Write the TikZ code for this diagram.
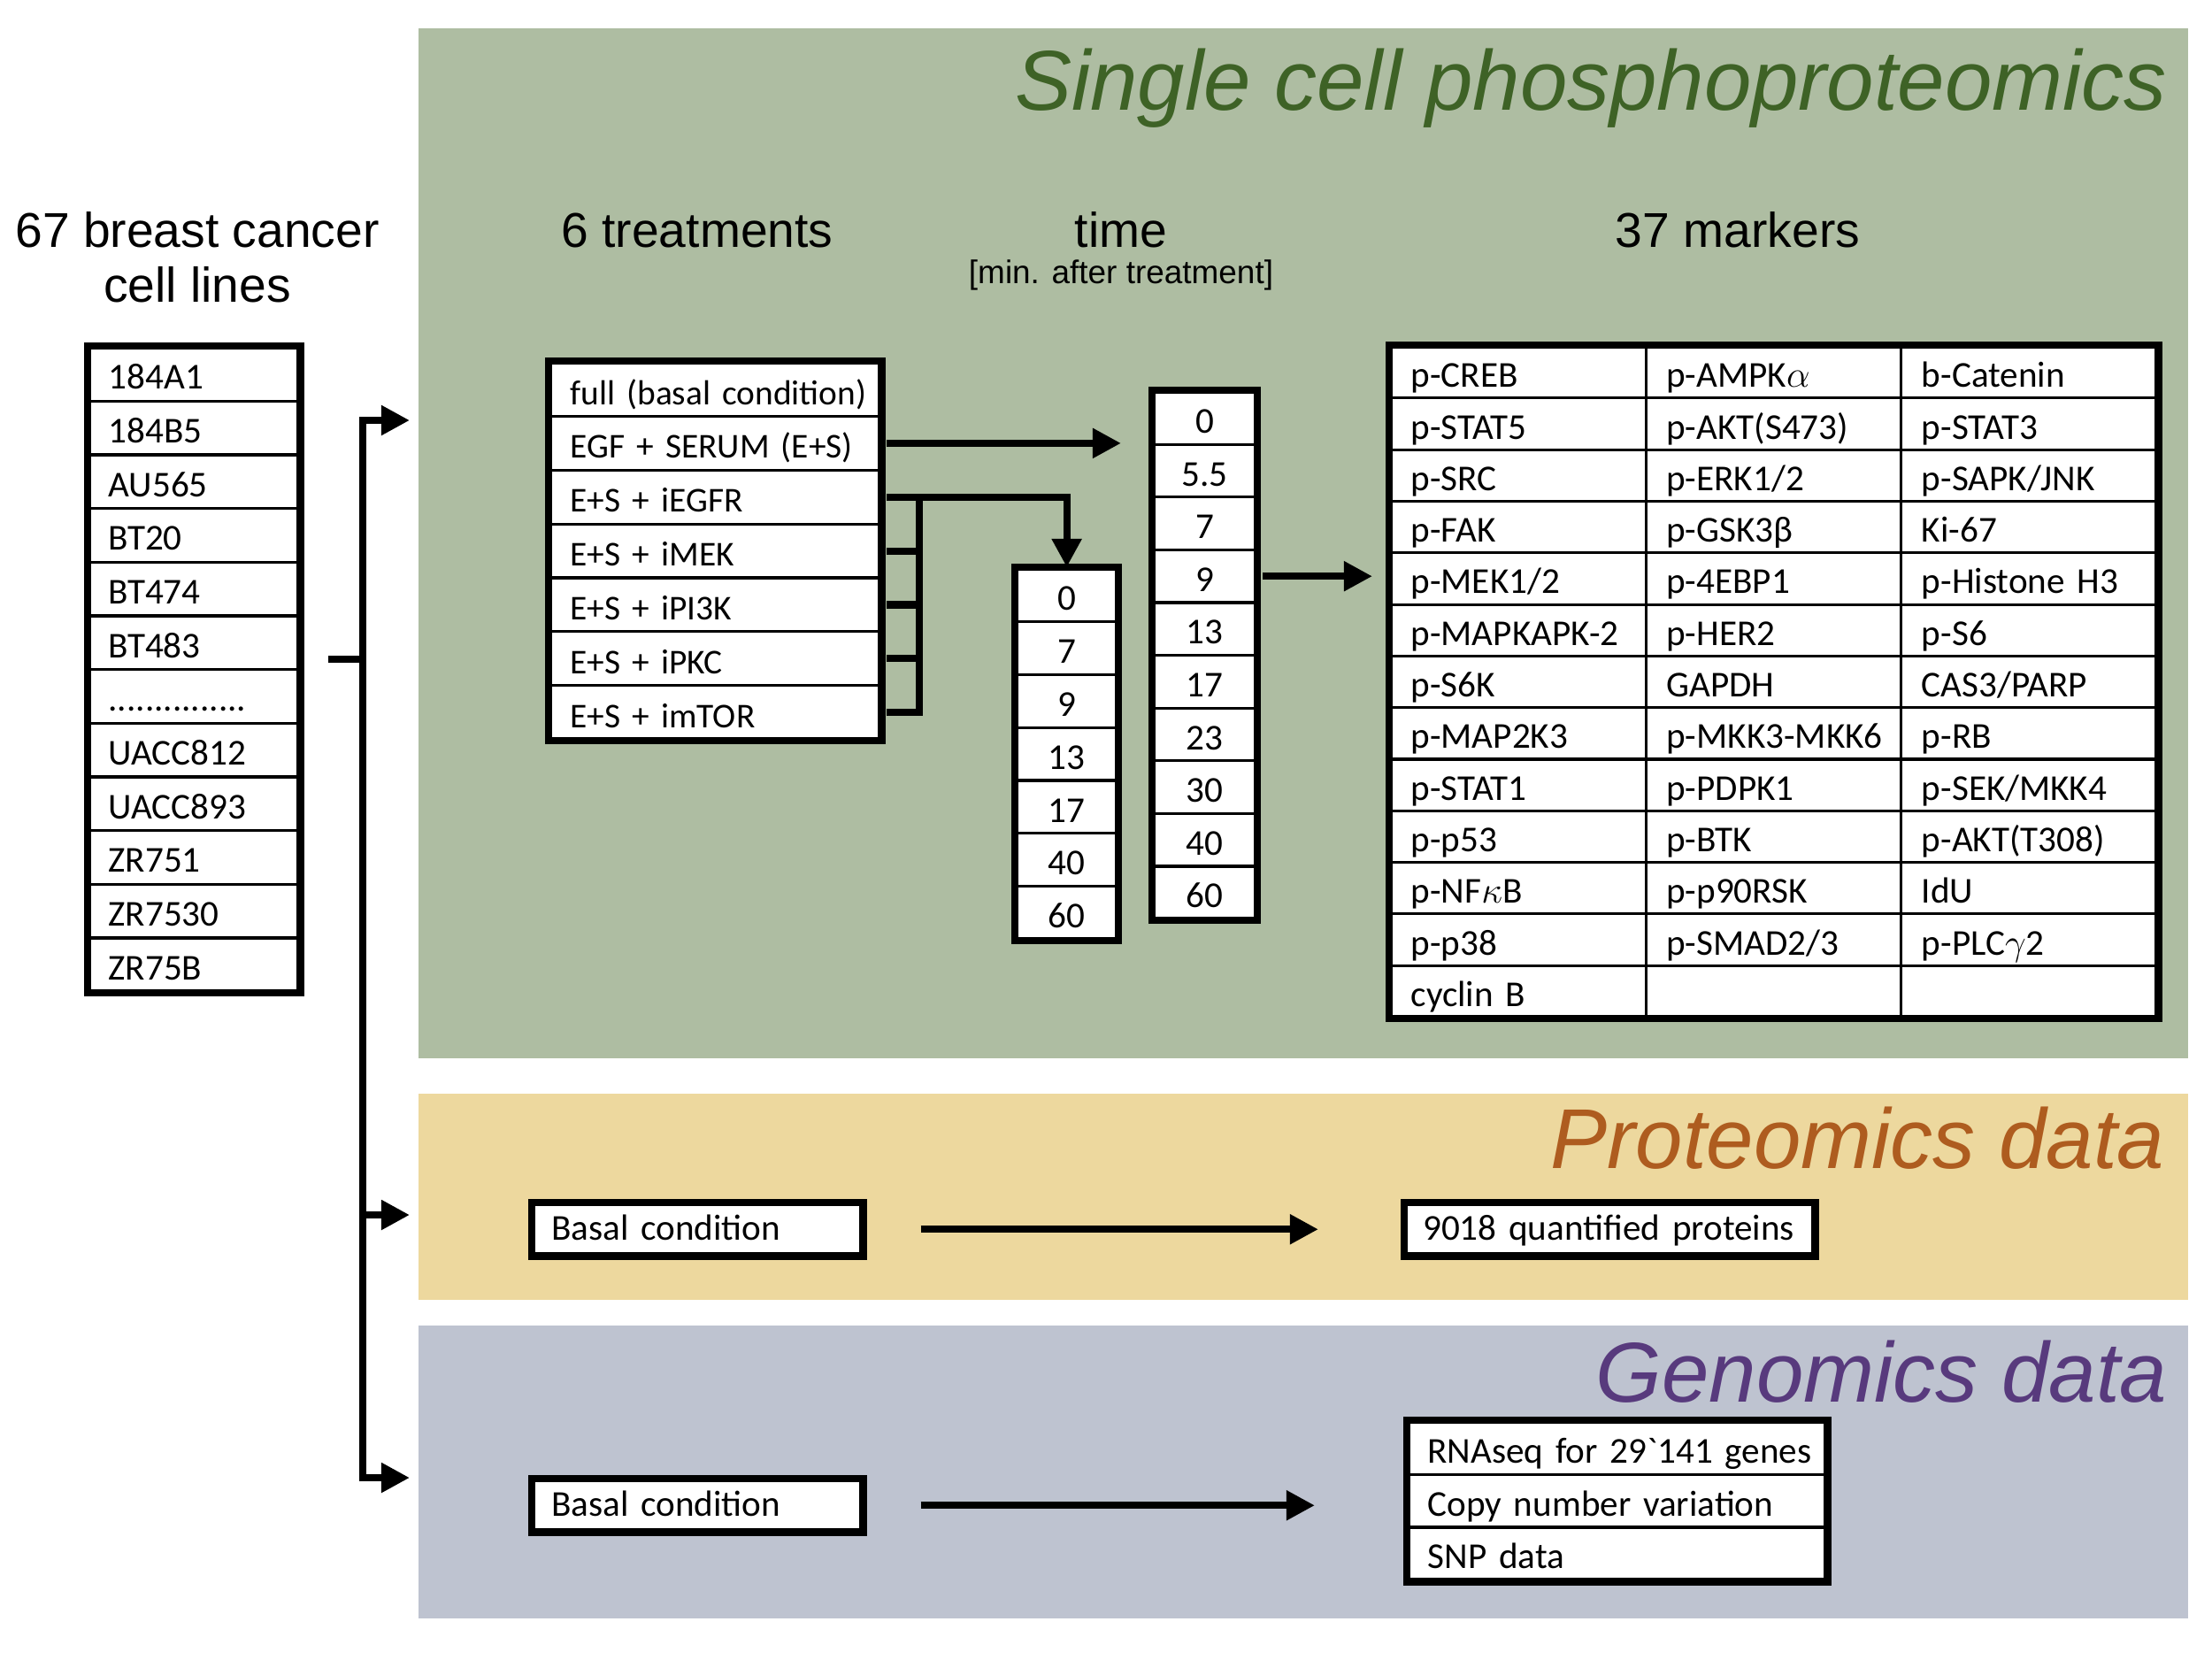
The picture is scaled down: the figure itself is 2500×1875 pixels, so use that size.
\documentclass[tikz,border=0pt]{standalone}
\usepackage{fontspec}
\setmainfont{Carlito}
\newfontfamily\arial{Liberation Sans}
\usepackage{tikz}
\usetikzlibrary{arrows.meta, positioning}
\definecolor{vertfond}{HTML}{AEBDA2}
\definecolor{vert}{HTML}{3E6226}
\definecolor{jaunefond}{HTML}{EDD89E}
\definecolor{brun}{HTML}{AE5C1F}
\definecolor{bleufond}{HTML}{BEC3D0}
\definecolor{prune}{HTML}{583A7D}
\newcommand{\pointilles}{...............}

\begin{document}
\begin{tikzpicture}[x=0.01cm, y=-0.01cm, line join=miter,
    >={Triangle[length=0.32cm, width=0.32cm]},
    cell/.style={draw, line width=0.9pt, fill=white, anchor=north west,
      inner xsep=0.22cm, inner ysep=0pt, align=left,
      text height=0.38cm, text depth=0.04cm, font=\fontsize{11.7}{14}\selectfont},
    bord/.style={line width=2.4pt},
    conn/.style={line width=2.3pt},
    head/.style={font=\arial\fontsize{15.7}{19}\selectfont, anchor=base, inner sep=0pt},
    titre/.style={font=\arial\itshape\fontsize{27.3}{33}\selectfont, anchor=base east, inner sep=0pt}]
    \useasboundingbox (0,0) rectangle (2500,1875);
    % panels
    \fill[vertfond] (473,32) rectangle (2473,1196);
    \fill[jaunefond] (473,1236) rectangle (2473,1469);
    \fill[bleufond] (473,1498) rectangle (2473,1829);
    \node[titre, text=vert] (t-sc) at (2450,124) {Single cell phosphoproteomics};
    \node[titre, text=brun] (t-pr) at (2447,1320) {Proteomics data};
    \node[titre, text=prune] (t-ge) at (2450,1584) {Genomics data};
    % headers
    \node[head] (h-cla) at (223,279) {67 breast cancer};
    \node[head] (h-clb) at (223,341) {cell lines};
    \node[head] (h-tr) at (788,279) {6 treatments};
    \node[head] (h-ti) at (1267,279) {time};
    \node[head, font=\arial\fontsize{10.5}{13}\selectfont] (h-tib) at (1267,320) {[min. after treatment]};
    \node[head] (h-mk) at (1964,279) {37 markers};
    % cell lines
    \foreach \lab [count=\i] in {184A1, 184B5, AU565, BT20, BT474, BT483, \pointilles, UACC812, UACC893, ZR751, ZR7530, ZR75B} {
      \node[cell, text width=1.93cm, minimum height=0.6067cm] (cl-\i) at (99, {391+(\i-1)*60.67}) {\mbox{\lab}};
    }
    \draw[bord] (cl-1.north west) rectangle (cl-12.south east);
    % treatments
    \foreach \lab [count=\i] in {full (basal condition), EGF + SERUM (E+S), E+S + iEGFR, E+S + iMEK, E+S + iPI3K, E+S + iPKC, E+S + imTOR} {
      \node[cell, font=\fontsize{11.2}{14}\selectfont, inner xsep=0.23cm, text width=3.27cm, minimum height=0.6086cm] (tr-\i) at (620, {408+(\i-1)*60.86}) {\mbox{\lab}};
    }
    \draw[bord] (tr-1.north west) rectangle (tr-7.south east);
    % time points
    \foreach \lab [count=\i] in {0, 7, 9, 13, 17, 40, 60} {
      \node[cell, align=center, inner xsep=0.1cm, text width=0.94cm, minimum height=0.5986cm] (tp-\i) at (1147, {641+(\i-1)*59.86}) {\lab};
    }
    \draw[bord] (tp-1.north west) rectangle (tp-7.south east);
    \foreach \lab [count=\i] in {0, 5.5, 7, 9, 13, 17, 23, 30, 40, 60} {
      \node[cell, align=center, inner xsep=0.1cm, text width=0.96cm, minimum height=0.596cm] (tl-\i) at (1302, {441+(\i-1)*59.6}) {\lab};
    }
    \draw[bord] (tl-1.north west) rectangle (tl-10.south east);
    % markers
    \foreach \a/\b/\c [count=\i] in {p-CREB/p-AMPK$\alpha$/b-Catenin, p-STAT5/p-AKT(S473)/p-STAT3,
        p-SRC/{p-ERK1/2}/{p-SAPK/JNK}, p-FAK/p-GSK3β/Ki-67, {p-MEK1/2}/p-4EBP1/p-Histone H3,
        p-MAPKAPK-2/p-HER2/p-S6, p-S6K/GAPDH/{CAS3/PARP}, p-MAP2K3/p-MKK3-MKK6/p-RB,
        p-STAT1/p-PDPK1/{p-SEK/MKK4}, p-p53/p-BTK/p-AKT(T308), p-NF$\kappa$B/p-p90RSK/IdU,
        p-p38/{p-SMAD2/3}/p-PLC$\gamma$2, cyclin B/{}/{}} {
      \node[cell, inner xsep=0.23cm, text width=2.427cm, minimum height=0.583cm] (mk-\i-1) at (1570, {390+(\i-1)*58.3}) {\mbox{\a}};
      \node[cell, inner xsep=0.23cm, text width=2.427cm, minimum height=0.583cm] (mk-\i-2) at (1858.7, {390+(\i-1)*58.3}) {\mbox{\b}};
      \node[cell, inner xsep=0.23cm, text width=2.427cm, minimum height=0.583cm] (mk-\i-3) at (2147.3, {390+(\i-1)*58.3}) {\mbox{\c}};
    }
    \draw[bord] (mk-1-1.north west) rectangle (mk-13-3.south east);
    % proteomics and genomics
    \node[cell, bord, text height=0.33cm, text depth=0.09cm, text width=3.30cm, minimum height=0.6cm] (pb) at (597,1355) {\mbox{Basal condition}};
    \node[cell, bord, text height=0.33cm, text depth=0.09cm, inner xsep=0.21cm, text width=4.22cm, minimum height=0.6cm] (pq) at (1583,1355) {\mbox{9018 quantified proteins}};
    \node[cell, bord, text height=0.33cm, text depth=0.09cm, text width=3.30cm, minimum height=0.6cm] (gb) at (597,1667) {\mbox{Basal condition}};
    \foreach \lab [count=\i] in {RNAseq for 29\textasciigrave141 genes, Copy number variation, SNP data} {
      \node[cell, text width=4.28cm, minimum height=0.597cm] (gr-\i) at (1590, {1605+(\i-1)*59.7}) {\mbox{\lab}};
    }
    \draw[bord] (gr-1.north west) rectangle (gr-3.south east);
    % connectors
    \coordinate (stub) at (371,745);
    \coordinate (fork) at (410,745);
    \coordinate (in-1) at (463,475);
    \coordinate (in-2) at (463,1373);
    \coordinate (in-3) at (463,1670);
    \draw[conn] (stub) -- (fork);
    \foreach \i in {1,2,3} {
      \draw[conn, ->] (fork) |- (in-\i);
    }
    \draw[conn, ->] ([xshift=0.06cm]tr-2.east) -- ([xshift=-0.35cm]tr-2.east -| tl-1.west);
    \draw[conn, ->] ([xshift=0.06cm]tr-3.east) -| (tp-1.north);
    \draw[conn] ([xshift=0.06cm]tr-7.east) -| ([xshift=0.43cm]tr-3.east);
    \foreach \i in {4,5,6} {
      \draw[conn] ([xshift=0.06cm]tr-\i.east) -- ([xshift=0.43cm]tr-\i.east);
    }
    \draw[conn, ->] ([xshift=0.06cm]tl-4.east) -- ([xshift=-0.19cm]tl-4.east -| mk-1-1.west);
    \draw[conn, ->] ([xshift=0.61cm]pb.east) -- ([xshift=-0.93cm]pq.west);
    \draw[conn, ->] ([xshift=0.61cm]gb.east) -- ([xshift=-1.04cm]gb.east -| gr-2.west);
  \end{tikzpicture}
\end{document}
